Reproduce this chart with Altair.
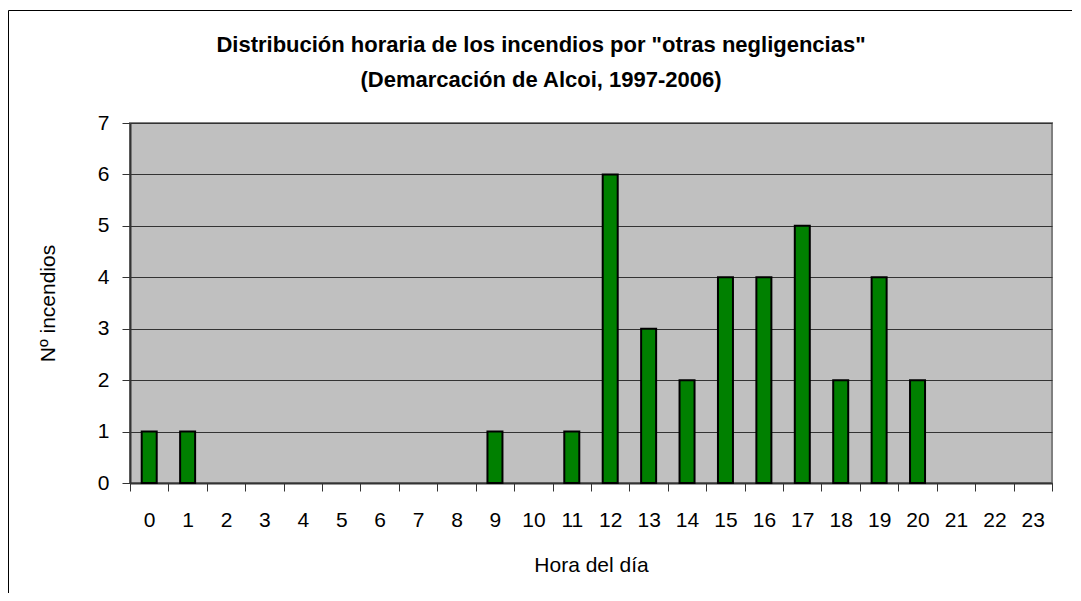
import altair as alt
import pandas as pd

hours = list(range(24))
counts = [1, 1, 0, 0, 0, 0, 0, 0, 0, 1, 0, 1, 6, 3, 2, 4, 4, 5, 2, 4, 2, 0, 0, 0]
y_ticks = [0, 1, 2, 3, 4, 5, 6, 7]
title_lines = ["Distribución horaria de los incendios por \"otras negligencias\"",
               "(Demarcación de Alcoi, 1997-2006)"]

df = pd.DataFrame({"hora": hours, "n": counts})

FONT = "Liberation Sans Narrow, Arial Narrow, Liberation Sans, Arial"

frame = alt.Chart(alt.Data(values=[{"k": 1}])).mark_rect(
    fillOpacity=0, stroke="#000000", strokeWidth=1
).encode(
    x=alt.value(-121.5), x2=alt.value(1200),
    y=alt.value(-112.5), y2=alt.value(800)
)

title = alt.Chart(alt.Data(values=[{"k": 1}])).mark_text(
    text=title_lines, font=FONT, fontSize=22, fontWeight="bold", color="#000000",
    align="center", baseline="top", lineHeight=35
).encode(x=alt.value(411), y=alt.value(-88))

bars = alt.Chart(df).transform_filter("datum.n > 0").mark_bar(
    size=15, fill="#008000", stroke="#000000", strokeWidth=2
).encode(
    x=alt.X("hora:O", scale=alt.Scale(domain=hours, paddingInner=0, paddingOuter=0),
            axis=alt.Axis(title="Hora del día", labelAngle=0, tickBand="extent",
                          tickSize=8, labelPadding=18, titlePadding=24, grid=False)),
    y=alt.Y("n:Q", scale=alt.Scale(domain=[0, 7], nice=False, zero=True),
            axis=alt.Axis(title="Nº incendios", values=y_ticks, tickSize=8,
                          labelPadding=13, titlePadding=39, grid=True,
                          gridColor="#333333", gridWidth=1)),
)

chart = alt.layer(frame, title, bars).properties(
    width=922, height=360,
    background="#FFFFFF",
    autosize=alt.AutoSizeParams(type="none"),
    padding={"left": 122, "top": 115, "right": 20, "bottom": 110},
).configure_view(
    fill="#C0C0C0", stroke="#808080", strokeWidth=2
).configure_axis(
    labelFont=FONT, titleFont=FONT, labelFontSize=21, titleFontSize=21,
    titleFontWeight="normal", labelColor="#000000", titleColor="#000000",
    domainColor="#333333", domainWidth=2, tickColor="#333333", tickWidth=1
)

chart.save("out.html", embed_options={"renderer": "svg", "actions": False})
